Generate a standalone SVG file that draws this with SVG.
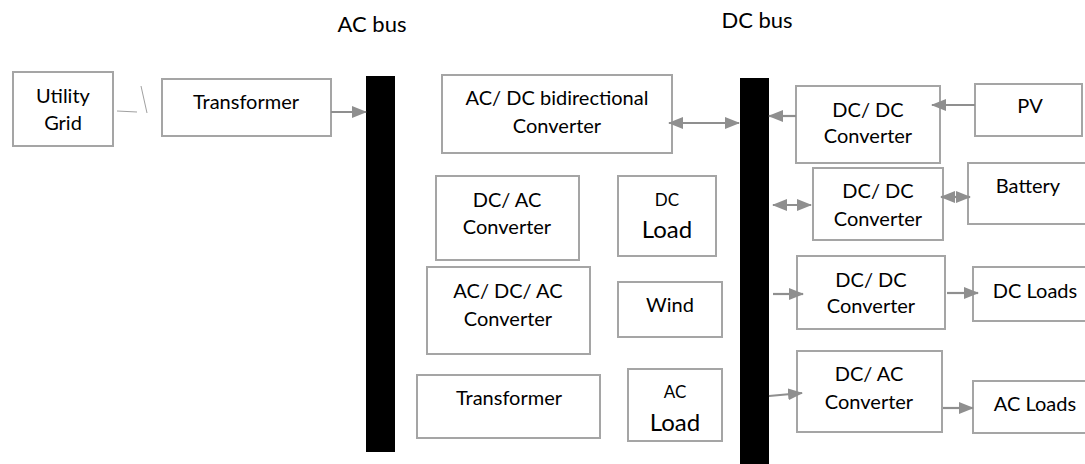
<svg xmlns="http://www.w3.org/2000/svg" width="1085" height="464" viewBox="0 0 1085 464">
<defs>
<style>
.box{fill:#fff;stroke:#a5a5a5;stroke-width:2}
.bus{fill:#000}
text{font-family:Lato,"Open Sans",sans-serif;font-size:20px;fill:#000;text-anchor:middle}
.title{font-size:22px}
.sm{font-size:17px}
.lg{font-size:24px}
.con{stroke:#8f8f8f;stroke-width:2.2;fill:none}
.thin{stroke:#a0a0a0;stroke-width:1;fill:none}
</style>
<marker id="ah" markerUnits="userSpaceOnUse" markerWidth="15" markerHeight="12" refX="14" refY="6" orient="auto-start-reverse">
<path d="M0,0 L15,6 L0,12 z" fill="#8f8f8f"/>
</marker>
</defs>
<rect width="1085" height="464" fill="#fff"/>
<g id="titles">
<text class="title" x="372" y="32">AC bus</text>
<text class="title" x="757" y="28">DC bus</text>
</g>
<g id="ac-bus"><rect class="bus" x="366" y="76" width="29" height="376"/></g>
<g id="dc-bus"><rect class="bus" x="740" y="78" width="29" height="390"/></g>
<g id="utility-grid"><rect class="box" x="13" y="72" width="100" height="74"/><text x="63" y="103">Utility</text><text x="63" y="130">Grid</text></g>
<g id="transformer-1"><rect class="box" x="162" y="79" width="169" height="57"/><text x="246" y="109">Transformer</text></g>
<g id="acdc-bidirectional"><rect class="box" x="442" y="75" width="230" height="78"/><text x="557" y="105">AC/ DC bidirectional</text><text x="557" y="133">Converter</text></g>
<g id="dcac-left"><rect class="box" x="436" y="176" width="143" height="84"/><text x="507" y="207">DC/ AC</text><text x="507" y="234">Converter</text></g>
<g id="dc-load"><rect class="box" x="618" y="176" width="98" height="80"/><text class="sm" x="667" y="206">DC</text><text class="lg" x="667" y="238">Load</text></g>
<g id="acdcac"><rect class="box" x="427" y="267" width="163" height="87"/><text x="508" y="298">AC/ DC/ AC</text><text x="508" y="326">Converter</text></g>
<g id="wind"><rect class="box" x="618" y="282" width="104" height="55"/><text x="670" y="312">Wind</text></g>
<g id="transformer-2"><rect class="box" x="417" y="375" width="183" height="63"/><text x="509" y="405">Transformer</text></g>
<g id="ac-load"><rect class="box" x="628" y="369" width="94" height="72"/><text class="sm" x="675" y="398">AC</text><text class="lg" x="675" y="431">Load</text></g>
<g id="dcdc-1"><rect class="box" x="796" y="86" width="144" height="77"/><text x="868" y="117">DC/ DC</text><text x="868" y="143">Converter</text></g>
<g id="pv"><rect class="box" x="975" y="84" width="107" height="52"/><text x="1030" y="113">PV</text></g>
<g id="dcdc-2"><rect class="box" x="813" y="168" width="130" height="72"/><text x="878" y="198">DC/ DC</text><text x="878" y="226">Converter</text></g>
<g id="battery"><rect class="box" x="968" y="163" width="130" height="61"/><text x="1028" y="193">Battery</text></g>
<g id="dcdc-3"><rect class="box" x="797" y="256" width="148" height="73"/><text x="871" y="287">DC/ DC</text><text x="871" y="313">Converter</text></g>
<g id="dc-loads"><rect class="box" x="973" y="267" width="125" height="54"/><text x="1035" y="298">DC Loads</text></g>
<g id="dcac-right"><rect class="box" x="797" y="351" width="145" height="81"/><text x="869" y="381">DC/ AC</text><text x="869" y="409">Converter</text></g>
<g id="ac-loads"><rect class="box" x="973" y="381" width="125" height="52"/><text x="1035" y="411">AC Loads</text></g>
<g id="connectors">
<line class="thin" x1="117" y1="111" x2="137" y2="112"/>
<line class="thin" x1="141" y1="86" x2="147" y2="113"/>
<line class="con" x1="331" y1="112" x2="366" y2="112" marker-end="url(#ah)"/>
<line class="con" x1="669" y1="123" x2="739" y2="123" marker-start="url(#ah)" marker-end="url(#ah)"/>
<line class="con" x1="796" y1="116" x2="769" y2="116" marker-end="url(#ah)"/>
<line class="con" x1="975" y1="105" x2="932" y2="105" marker-end="url(#ah)"/>
<line class="con" x1="773" y1="205" x2="811" y2="205" marker-start="url(#ah)" marker-end="url(#ah)"/>
<line class="con" x1="941" y1="197" x2="970" y2="197" marker-start="url(#ah)" marker-end="url(#ah)"/>
<line class="con" x1="773" y1="294" x2="803" y2="294" marker-end="url(#ah)"/>
<line class="con" x1="947" y1="293" x2="978" y2="293" marker-end="url(#ah)"/>
<line class="con" x1="769" y1="396" x2="802" y2="393" marker-end="url(#ah)"/>
<line class="con" x1="943" y1="408" x2="973" y2="408" marker-end="url(#ah)"/>
</g>
</svg>
